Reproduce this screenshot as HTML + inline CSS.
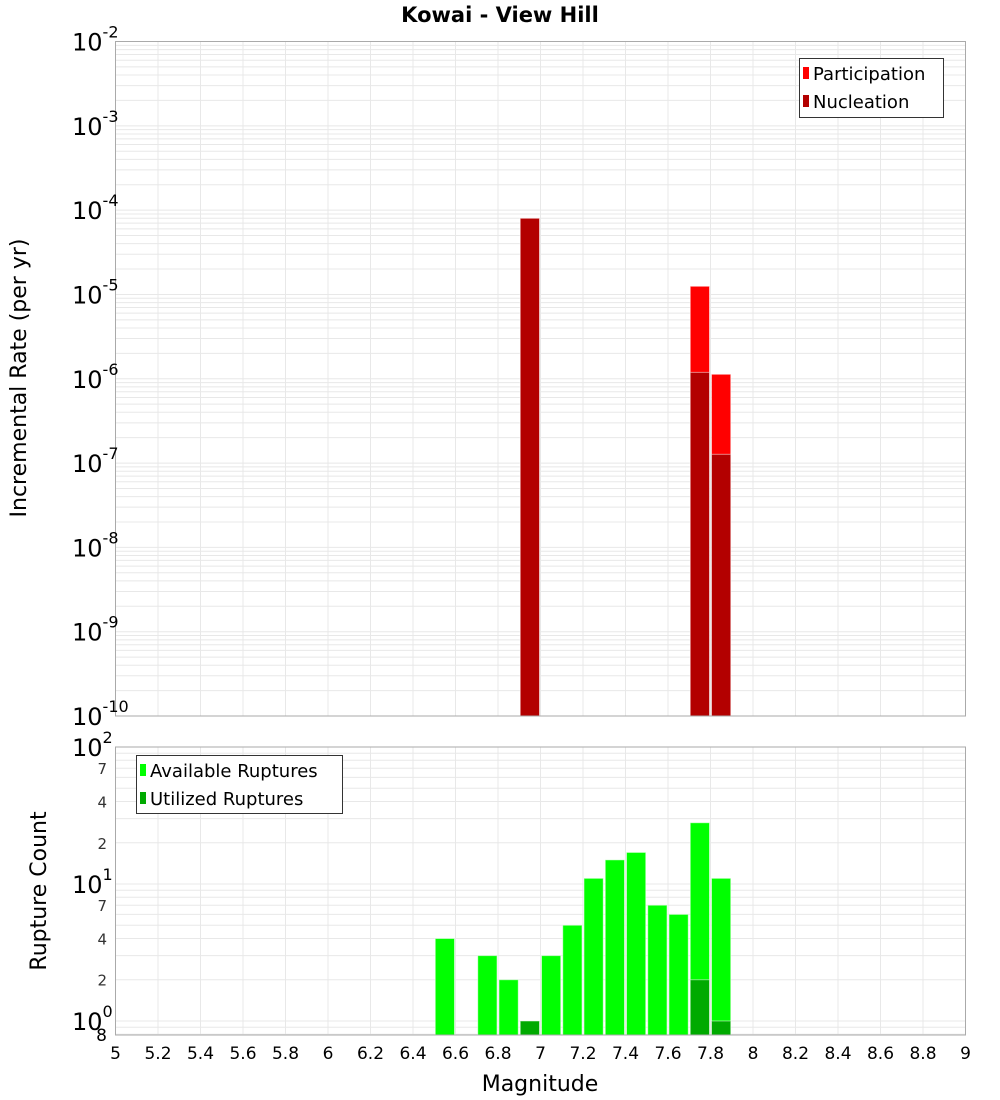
<!DOCTYPE html>
<html><head><meta charset="utf-8"><style>
body{margin:0;background:#fff;}
svg{display:block;font-family:"DejaVu Sans","Liberation Sans",sans-serif;}
</style></head><body>
<svg id="chart" width="1000" height="1100" viewBox="0 0 1000 1100" xmlns="http://www.w3.org/2000/svg">
<text x="500" y="22" text-anchor="middle" font-size="21" font-weight="bold">Kowai - View Hill</text>
<g id="topPlot"></g>
<g id="botPlot"></g>
<text transform="translate(26,378) rotate(-90)" text-anchor="middle" font-size="22">Incremental Rate (per yr)</text>
<text transform="translate(46,891) rotate(-90)" text-anchor="middle" font-size="22">Rupture Count</text>
<text x="540" y="1091" text-anchor="middle" font-size="22">Magnitude</text>
<g>
<rect x="799.5" y="58.5" width="144" height="59" fill="#fff" stroke="#333"/>
<rect x="803" y="67" width="6" height="12" fill="#ff0000"/>
<text x="813" y="80" font-size="18">Participation</text>
<rect x="803" y="95" width="6" height="12" fill="#b30000"/>
<text x="813" y="108" font-size="18">Nucleation</text>
</g>
<g>
<rect x="136.5" y="755.5" width="206" height="58" fill="#fff" stroke="#333"/>
<rect x="140" y="764" width="6" height="12" fill="#00ff00"/>
<text x="150" y="777" font-size="18">Available Ruptures</text>
<rect x="140" y="792" width="6" height="12" fill="#00aa00"/>
<text x="150" y="805" font-size="18">Utilized Ruptures</text>
</g>
</svg>
<script>
const rateMags = [6.9, 7.7, 7.8];
const participation = [8.0e-5, 1.25e-5, 1.13e-6];
const nucleation = [8.0e-5, 1.19e-6, 1.27e-7];
const countMags = [6.5, 6.7, 6.8, 6.9, 7.0, 7.1, 7.2, 7.3, 7.4, 7.5, 7.6, 7.7, 7.8];
const available = [4, 3, 2, 1, 3, 5, 11, 15, 17, 7, 6, 28, 11];
const utilizedMags = [6.9, 7.7, 7.8];
const utilized = [1, 2, 1];
const xTicks = ["5","5.2","5.4","5.6","5.8","6","6.2","6.4","6.6","6.8","7","7.2","7.4","7.6","7.8","8","8.2","8.4","8.6","8.8","9"];
const topDecades = [-2,-3,-4,-5,-6,-7,-8,-9,-10];
const botMinor = ["7","4","2","7","4","2"];
const minorVals = [70,40,20,7,4,2];

const NS="http://www.w3.org/2000/svg";
const L=115.5,R=965.5,T1=41.5,B1=716,T2=747,B2=1035;
const xs=m=>L+(m-5)/4*(R-L);
const y1=v=>T1+(-2-Math.log10(v))/8*(B1-T1);
const y2=v=>T2+(2-Math.log10(v))/(2-Math.log10(0.79))*(B2-T2);
function el(tag,attrs,parent){const e=document.createElementNS(NS,tag);for(const k in attrs)e.setAttribute(k,attrs[k]);parent.appendChild(e);return e;}
const topG=document.getElementById('topPlot'),botG=document.getElementById('botPlot');

function grid(g,T,B,yf,dmin,dmax){
  for(let i=0;i<=20;i++){const x=xs(5+i*0.2);el('line',{x1:x,x2:x,y1:T,y2:B,stroke:'#e8e8e8'},g);}
  for(let d=dmin;d<dmax;d++)for(let k=1;k<10;k++){const v=k*Math.pow(10,d);const y=yf(v);if(y<T-0.5||y>B)continue;el('line',{x1:L,x2:R,y1:y,y2:y,stroke:'#e8e8e8'},g);}
}
grid(topG,T1,B1,y1,-10,-1);
grid(botG,T2,B2,y2,-1,2);

function bar(g,m,v,yf,B,col,name){
  const x0=xs(m)+1,x1=xs(m+0.1)-1,y=yf(v);
  const r=el('rect',{x:x0,y:y,width:x1-x0,height:B-y,fill:col,stroke:'rgba(255,255,255,0.5)','stroke-width':1},g);
  
  
}
rateMags.forEach((m,i)=>bar(topG,m,participation[i],y1,B1,'#ff0000','participation-bar'));
rateMags.forEach((m,i)=>bar(topG,m,nucleation[i],y1,B1,'#b30000','nucleation-bar'));
countMags.forEach((m,i)=>bar(botG,m,available[i],y2,B2,'#00ff00','available-bar'));
utilizedMags.forEach((m,i)=>bar(botG,m,utilized[i],y2,B2,'#00aa00','utilized-bar'));

el('rect',{x:L,y:T1,width:R-L,height:B1-T1,fill:'none',stroke:'#aaa'},topG);
el('rect',{x:L,y:T2,width:R-L,height:B2-T2,fill:'none',stroke:'#aaa'},botG);

const svg=document.getElementById('chart');
topDecades.forEach(d=>{
  const y=y1(Math.pow(10,d));
  const t=el('text',{x:72,y:y+9,'font-size':24},svg);
  
  
  t.textContent='10';
  const s=el('tspan',{dy:-13,'font-size':16},t);s.textContent=String(d);
});
[2,1,0].forEach(d=>{
  const y=y2(Math.pow(10,d));
  const t=el('text',{x:72,y:y+9,'font-size':24},svg);
  
  
  t.textContent='10';
  const s=el('tspan',{dy:-13,'font-size':16},t);s.textContent=String(d);
});
minorVals.forEach((v,i)=>{
  const t=el('text',{x:107,y:y2(v)+6,'font-size':15,'text-anchor':'end',fill:'#333'},svg);
  
  
  t.textContent=botMinor[i];
});
{const t=el('text',{x:107,y:1041,'font-size':17,'text-anchor':'end'},svg);


t.textContent='8';}
xTicks.forEach(s=>{
  const t=el('text',{x:xs(parseFloat(s)),y:1059,'font-size':17,'text-anchor':'middle'},svg);
  
  
  t.textContent=s;
});
</script>
</body></html>
